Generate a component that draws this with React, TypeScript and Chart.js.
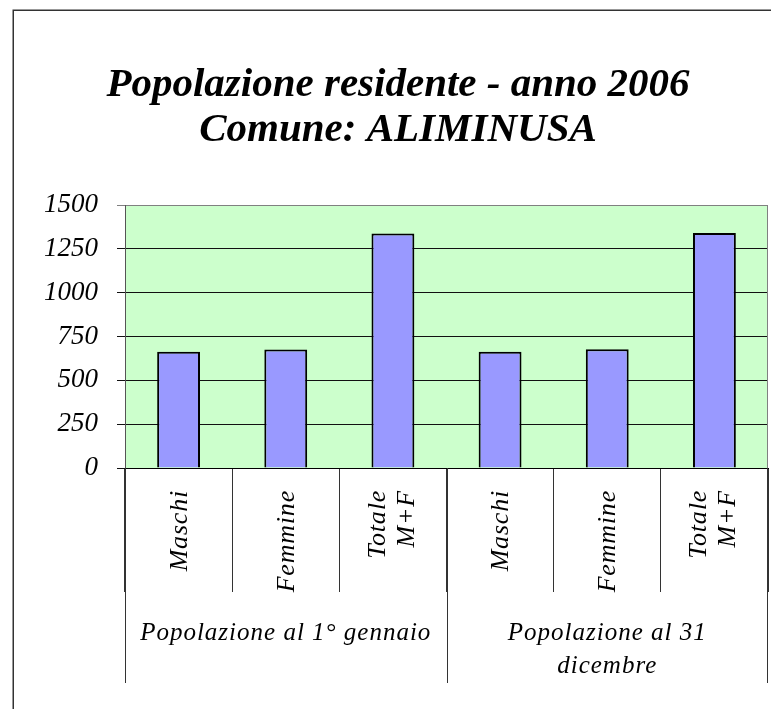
import React, { useEffect, useRef } from 'react';
import { Chart, registerables } from 'chart.js';

Chart.register(...registerables);

const TITLE_LINES = ['Popolazione residente - anno 2006', 'Comune: ALIMINUSA'];
const CATEGORY_LINES: string[][] = [
  ['Maschi'],
  ['Femmine'],
  ['Totale', 'M+F'],
  ['Maschi'],
  ['Femmine'],
  ['Totale', 'M+F'],
];
const GROUP_LINES: string[][] = [
  ['Popolazione al 1° gennaio'],
  ['Popolazione al 31', 'dicembre'],
];
const GROUP_SIZES = [3, 3];
const VALUES = [663, 676, 1339, 664, 678, 1342];
const Y_MIN = 0;
const Y_MAX = 1500;
const Y_STEP = 250;

const FONT = "'Liberation Serif', 'Times New Roman', serif";

const decor = {
  id: 'decor',
  beforeDraw(chart: any) {
    const { ctx, chartArea: a, width, height } = chart;
    ctx.save();
    ctx.fillStyle = '#ffffff';
    ctx.fillRect(0, 0, width, height);
    ctx.fillStyle = '#CCFFCC';
    ctx.fillRect(a.left, a.top, a.right - a.left, a.bottom - a.top);
    ctx.strokeStyle = '#333333';
    ctx.lineWidth = 1.5;
    ctx.strokeRect(13.25, 10.25, 770, 760);
    ctx.restore();
  },
  afterDraw(chart: any) {
    const { ctx, chartArea: a, scales } = chart;
    const x = scales.x;
    const bottom = x.bottom;
    ctx.save();
    // right border of plot area
    ctx.strokeStyle = '#808080';
    ctx.lineWidth = 1;
    const rx = Math.round(a.right) - 0.5;
    ctx.beginPath();
    ctx.moveTo(rx, a.top);
    ctx.lineTo(rx, a.bottom);
    ctx.stroke();
    // group dividers
    ctx.strokeStyle = '#333333';
    const bounds = [0];
    let acc = 0;
    GROUP_SIZES.forEach((n) => {
      acc += n;
      bounds.push(acc);
    });
    bounds.forEach((b) => {
      let px = Math.round(x.getPixelForValue(b - 0.5)) + 0.5;
      if (b === acc) px -= 1;
      ctx.beginPath();
      ctx.moveTo(px, a.bottom);
      ctx.lineTo(px, bottom);
      ctx.stroke();
    });
    // category labels (rotated)
    ctx.fillStyle = '#000';
    ctx.font = `italic 26px ${FONT}`;
    (ctx as any).letterSpacing = '0.8px';
    CATEGORY_LINES.forEach((lines, i) => {
      const cx = x.getPixelForValue(i);
      lines.forEach((t, j) => {
        const bx = lines.length === 1 ? cx + 8 : cx - 8 + j * 29;
        ctx.save();
        ctx.translate(bx, a.bottom + 22);
        ctx.rotate(-Math.PI / 2);
        ctx.textAlign = 'right';
        ctx.textBaseline = 'alphabetic';
        ctx.fillText(t, 0, 0);
        ctx.restore();
      });
    });
    // group labels
    ctx.font = `italic 25px ${FONT}`;
    (ctx as any).letterSpacing = '1px';
    ctx.textAlign = 'center';
    ctx.textBaseline = 'alphabetic';
    let start = 0;
    GROUP_LINES.forEach((lines, g) => {
      const n = GROUP_SIZES[g];
      const l = x.getPixelForValue(start - 0.5);
      const r = x.getPixelForValue(start + n - 0.5);
      const cx = (l + r) / 2;
      lines.forEach((t, j) => {
        ctx.fillText(t, cx, a.bottom + 172 + j * 33);
      });
      start += n;
    });
    ctx.restore();
  },
};

export default function App() {
  const ref = useRef<HTMLCanvasElement | null>(null);
  useEffect(() => {
    if (!ref.current) return;
    const chart = new Chart(ref.current, {
      type: 'bar',
      data: {
        labels: CATEGORY_LINES.map((l) => l.join(' ')),
        datasets: [
          {
            data: VALUES,
            backgroundColor: '#9999FF',
            borderColor: '#000000',
            borderWidth: 2,
            barPercentage: 0.4,
            categoryPercentage: 1,
          },
        ],
      },
      options: {
        responsive: false,
        animation: false,
        devicePixelRatio: 1,
        layout: { padding: { left: 28, right: 28, top: 0, bottom: 26 } },
        plugins: {
          legend: { display: false },
          tooltip: { enabled: false },
          title: {
            display: true,
            text: TITLE_LINES,
            color: '#000',
            font: { family: FONT, size: 41, weight: 'bold', style: 'italic', lineHeight: 1.1 },
            padding: { top: 62.5, bottom: 52.5 },
          },
        },
        scales: {
          x: {
            ticks: { display: false },
            grid: {
              offset: true,
              drawOnChartArea: false,
              drawTicks: true,
              tickLength: 124,
              color: '#333333',
            },
            border: { color: '#000', width: 1 },
            afterFit: (s: any) => {
              s.height = 215;
            },
          },
          y: {
            min: Y_MIN,
            max: Y_MAX,
            ticks: {
              stepSize: Y_STEP,
              color: '#000',
              padding: 19,
              font: { family: FONT, size: 27, style: 'italic' },
              callback: (v: any) => String(v),
            },
            grid: {
              tickLength: 8,
              color: (c: any) => (c.tick && c.tick.value === Y_MAX ? '#808080' : '#111111'),
            },
            border: { color: '#555555', width: 1 },
            afterFit: (s: any) => {
              s.width = 97;
            },
          },
        },
      },
      plugins: [decor],
    });
    return () => chart.destroy();
  }, []);
  return (
    <div
      style={{
        position: 'fixed',
        left: 0,
        top: 0,
        width: 771,
        height: 709,
        overflow: 'hidden',
        background: '#fff',
      }}
    >
      <canvas ref={ref} width={796} height={709} style={{ display: 'block' }} />
    </div>
  );
}
